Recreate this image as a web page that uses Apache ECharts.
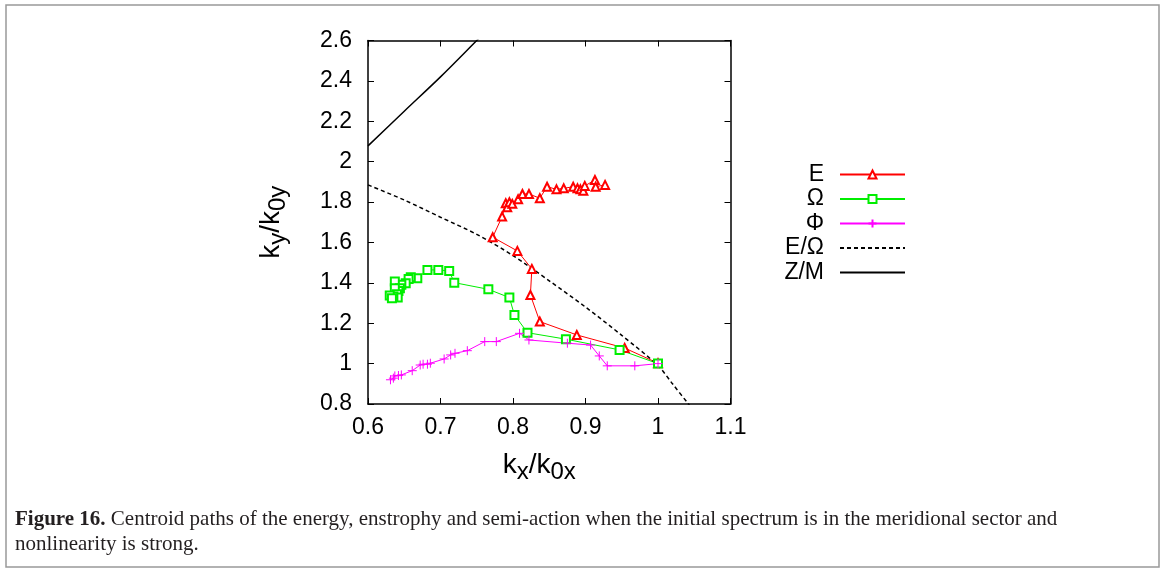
<!DOCTYPE html>
<html>
<head>
<meta charset="utf-8">
<script src="https://cdn.jsdelivr.net/npm/echarts@6/dist/echarts.min.js"></script>
<style>
html,body{margin:0;padding:0;background:#fff}
#chart{width:1168px;height:573px}
</style>
</head>
<body>
<div id="chart"></div>
<script>
// Centroid path of the energy (E)
const energyKx = [1.000, 0.954, 0.888, 0.837, 0.824, 0.826, 0.806, 0.772, 0.785, 0.790, 0.792, 0.795, 0.799, 0.807, 0.813, 0.822, 0.837, 0.847, 0.860, 0.870, 0.883, 0.889, 0.893, 0.897, 0.899, 0.913, 0.914, 0.927];
const energyKy = [1.002, 1.077, 1.142, 1.208, 1.340, 1.469, 1.558, 1.626, 1.728, 1.794, 1.774, 1.799, 1.791, 1.814, 1.840, 1.840, 1.819, 1.876, 1.863, 1.868, 1.876, 1.868, 1.863, 1.856, 1.880, 1.909, 1.876, 1.885];

// Centroid path of the enstrophy (Omega)
const enstrophyKx = [1.000, 0.947, 0.873, 0.820, 0.802, 0.795, 0.766, 0.719, 0.712, 0.697, 0.682, 0.668, 0.659, 0.656, 0.652, 0.646, 0.637, 0.644, 0.642, 0.637, 0.640, 0.641, 0.635, 0.630, 0.633];
const enstrophyKy = [1.000, 1.068, 1.121, 1.153, 1.241, 1.327, 1.368, 1.401, 1.459, 1.464, 1.464, 1.423, 1.428, 1.419, 1.398, 1.390, 1.406, 1.373, 1.360, 1.373, 1.343, 1.327, 1.332, 1.337, 1.324];

// Centroid path of the semi-action (Phi)
const actionKx = [1.000, 0.968, 0.930, 0.919, 0.907, 0.875, 0.822, 0.809, 0.777, 0.761, 0.737, 0.720, 0.714, 0.705, 0.686, 0.682, 0.676, 0.672, 0.661, 0.646, 0.642, 0.637, 0.635, 0.631];
const actionKy = [1.000, 0.989, 0.989, 1.038, 1.092, 1.101, 1.117, 1.150, 1.109, 1.109, 1.064, 1.051, 1.043, 1.023, 1.002, 0.997, 0.997, 0.993, 0.965, 0.944, 0.941, 0.939, 0.928, 0.920];

// E/Omega reference curve
const ratioKx = [0.60, 0.65, 0.70, 0.75, 0.80, 0.85, 0.90, 0.95, 1.00, 1.02, 1.042, 1.06];
const ratioKy = [1.885, 1.81, 1.725, 1.64, 1.535, 1.41, 1.28, 1.14, 0.99, 0.90, 0.80, 0.72];

// Z/M reference curve
const zmKx = [0.60, 0.65, 0.70, 0.75, 0.80];
const zmKy = [2.078, 2.25, 2.42, 2.60, 2.78];

// Axis settings
const xTicks = {min: 0.6, max: 1.1, interval: 0.1};
const yTicks = {min: 0.8, max: 2.6, interval: 0.2};

const legendNames = ['E', 'Ω', 'Φ', 'E/Ω', 'Z/M'];

const captionLine1 = 'Centroid paths of the energy, enstrophy and semi-action when the initial spectrum is in the meridional sector and';
const captionLine2 = 'nonlinearity is strong.';

const zip = (xs, ys) => xs.map((x, i) => [x, ys[i]]);

const SANS = 'Liberation Sans';
const SERIF = 'Liberation Serif';
const subRich = {
  sub: {fontFamily: SANS, fontSize: 24, padding: [14, 0, 0, 0], color: '#000'}
};

const chart = echarts.init(document.getElementById('chart'), null, {renderer: 'canvas'});

const baseAxis = {
  axisLine: {show: true, onZero: false, lineStyle: {color: '#000', width: 1.5}},
  axisTick: {show: true, inside: true, length: 6, lineStyle: {color: '#000', width: 1}},
  splitLine: {show: false}
};

// curves without markers get an invisible legend symbol
const legendData = legendNames.map((name, i) =>
  i >= 3 ? {name, itemStyle: {opacity: 0}} : {name});

chart.setOption({
  animation: false,
  backgroundColor: '#fff',
  grid: {left: 368, right: 437.5, top: 40.5, bottom: 169, containLabel: false},
  xAxis: [
    Object.assign({
      type: 'value', position: 'bottom',
      min: xTicks.min, max: xTicks.max, interval: xTicks.interval,
      axisLabel: {fontFamily: SANS, fontSize: 23, color: '#000', margin: 12},
      name: 'k{sub|x}/k{sub|0x}',
      nameLocation: 'middle', nameGap: 42,
      nameTextStyle: {fontFamily: SANS, fontSize: 28, color: '#000', rich: subRich, padding: [0, 20, 0, 0]}
    }, baseAxis),
    Object.assign({
      type: 'value', position: 'top',
      min: xTicks.min, max: xTicks.max, interval: xTicks.interval,
      axisLabel: {show: false}
    }, baseAxis)
  ],
  yAxis: [
    Object.assign({
      type: 'value', position: 'left',
      min: yTicks.min, max: yTicks.max, interval: yTicks.interval,
      axisLabel: {fontFamily: SANS, fontSize: 23, color: '#000', margin: 16},
      name: 'k{sub|y}/k{sub|0y}',
      nameLocation: 'middle', nameGap: 78, nameRotate: 90,
      nameTextStyle: {fontFamily: SANS, fontSize: 28, color: '#000', rich: subRich}
    }, baseAxis),
    Object.assign({
      type: 'value', position: 'right',
      min: yTicks.min, max: yTicks.max, interval: yTicks.interval,
      axisLabel: {show: false}
    }, baseAxis)
  ],
  legend: {
    orient: 'vertical',
    left: 769, top: 158,
    align: 'right',
    itemWidth: 65, itemHeight: 10, itemGap: 1.5,
    selectedMode: false,
    textStyle: {fontFamily: SANS, fontSize: 23, color: '#000', width: 50, align: 'right', lineHeight: 20, padding: [0, 11, 0, 0]},
    data: legendData
  },
  series: [
    {
      name: legendNames[0], type: 'line', data: zip(energyKx, energyKy),
      symbol: 'emptyTriangle', symbolSize: 8,
      lineStyle: {color: '#ff0000', width: 1},
      itemStyle: {color: '#ff0000', borderWidth: 1}
    },
    {
      name: legendNames[1], type: 'line', data: zip(enstrophyKx, enstrophyKy),
      symbol: 'emptyRect', symbolSize: 8,
      lineStyle: {color: '#00ee00', width: 1},
      itemStyle: {color: '#00ee00', borderWidth: 1}
    },
    {
      name: legendNames[2], type: 'line', data: zip(actionKx, actionKy),
      symbol: 'path://M0,5H10M5,0V10', symbolSize: 9,
      lineStyle: {color: '#ff00ff', width: 1},
      itemStyle: {color: '#ff00ff', borderColor: '#ff00ff', borderWidth: 1}
    },
    {
      name: legendNames[3], type: 'line', data: zip(ratioKx, ratioKy),
      symbol: 'none', smooth: 0.3,
      lineStyle: {color: '#000', width: 1.5, type: [4, 3]},
      itemStyle: {color: '#000'}
    },
    {
      name: legendNames[4], type: 'line', data: zip(zmKx, zmKy),
      symbol: 'none', smooth: 0.3,
      lineStyle: {color: '#000', width: 1.5},
      itemStyle: {color: '#000'}
    }
  ],
  graphic: [
    {
      type: 'rect', silent: true,
      shape: {x: 6, y: 5, width: 1153, height: 562},
      style: {fill: 'none', stroke: '#999', lineWidth: 1.5}
    },
    {
      type: 'text', left: 15, top: 509, silent: true,
      style: {
        text: '{b|Figure 16.} ' + captionLine1,
        font: '21px "Liberation Serif"', fill: '#231f20',
        rich: {b: {fontWeight: 'bold', fontFamily: SERIF, fontSize: 21, fill: '#231f20'}}
      }
    },
    {
      type: 'text', left: 15, top: 534, silent: true,
      style: {text: captionLine2, font: '21px "Liberation Serif"', fill: '#231f20'}
    }
  ]
});
</script>
</body>
</html>
